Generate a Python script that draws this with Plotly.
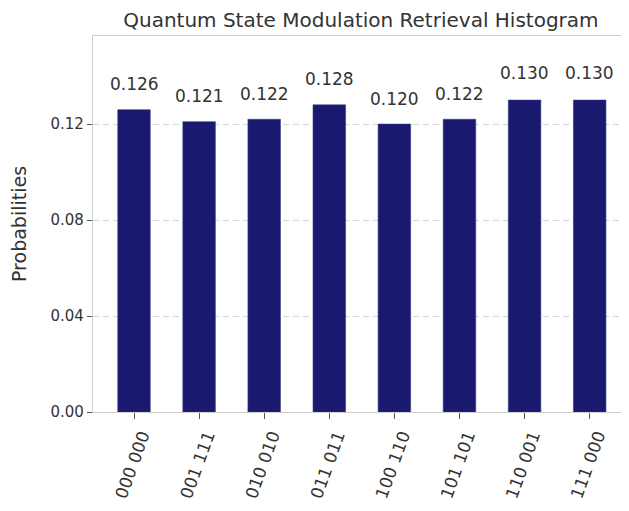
import plotly.graph_objects as go

# measured outcomes and their probabilities
states = ["000 000", "001 111", "010 010", "011 011",
          "100 110", "101 101", "110 001", "111 000"]
probs = [0.126, 0.121, 0.122, 0.128, 0.120, 0.122, 0.130, 0.130]

y_ticks = [0.00, 0.04, 0.08, 0.12]
y_ticklabels = ["0.00", "0.04", "0.08", "0.12"]

bar_colour = "#191970"
text_colour = "#333333"
font = "DejaVu Sans"

fig = go.Figure()
fig.add_trace(go.Bar(x=list(range(len(states))),
                     y=probs,
                     width=0.5,
                     marker=dict(color=bar_colour, line=dict(color="#3a3a8c", width=0.6)),
                     showlegend=False))

# value labels above the bars (matplotlib-style 1.05 * height)
for i, p in enumerate(probs):
    fig.add_annotation(x=i, y=1.05 * p, text=f"{p:.3f}", showarrow=False,
                       xanchor="center", yanchor="bottom", borderpad=0,
                       font=dict(family=font, size=17, color=text_colour))

# page body adds an 8px offset, margins compensate for it;
# the figure is a bit wider than the window so the right edge is cut off
fig.update_layout(
    width=637,
    height=511,
    margin=dict(l=85, r=0, t=28, b=107, autoexpand=False),
    plot_bgcolor="white",
    paper_bgcolor="white",
    font=dict(family=font, size=14, color=text_colour),
    title=dict(text="Quantum State Modulation Retrieval Histogram",
               x=0.554, xanchor="center", y=0.977, yanchor="middle",
               font=dict(family=font, size=20, color=text_colour)),
    xaxis=dict(range=[-0.63, 7.85],
               automargin=False,
               tickmode="array",
               tickvals=list(range(len(states))),
               ticktext=states,
               tickangle=-70,
               ticklabelshift=8,
               tickfont=dict(size=17),
               ticks="outside", ticklen=6, tickcolor="#555555", tickwidth=1,
               showline=True, linecolor="#cccccc", linewidth=1.2, mirror=True,
               showgrid=False, zeroline=False),
    yaxis=dict(range=[0, 0.1567],
               automargin=False,
               tickmode="array",
               tickvals=y_ticks,
               ticktext=y_ticklabels,
               tickfont=dict(size=15),
               ticks="outside", ticklen=5, tickcolor="#555555", tickwidth=1,
               showline=True, linecolor="#cccccc", linewidth=1.2, mirror=True,
               showgrid=True, gridcolor="#d3d3d3", griddash="6px,4px", gridwidth=1,
               zeroline=False,
               title=dict(text="Probabilities", standoff=19,
                          font=dict(family=font, size=19, color=text_colour))),
)

fig.write_html("out.html")
